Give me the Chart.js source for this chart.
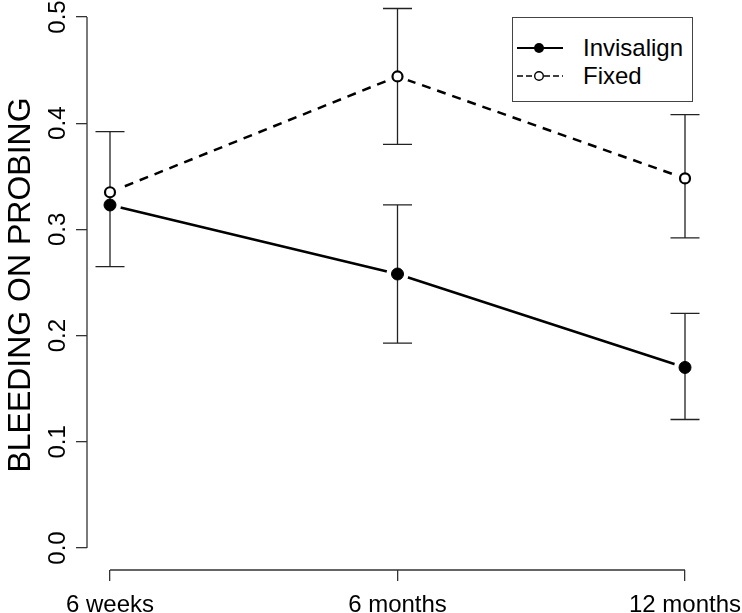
<!DOCTYPE html>
<html>
<head>
<meta charset="utf-8">
<script src="https://cdn.jsdelivr.net/npm/chart.js@4.4.1/dist/chart.umd.min.js"></script>
<style>
  body { margin: 0; background: #fff; }
  #wrap { position: relative; width: 742px; height: 613px; }
  #legend {
    position: absolute; left: 512px; top: 17px; width: 179px; height: 83px;
    border: 1px solid #444; background: #fff;
    font-family: "Liberation Sans", Arial, sans-serif; font-size: 24px; color: #000;
  }
  .row { position: absolute; left: 0; height: 26px; display: flex; align-items: center; }
  .row svg { margin-left: 4px; }
  .row span { margin-left: 20px; }
</style>
</head>
<body>
<div id="wrap">
  <canvas id="chart" width="742" height="613"></canvas>
  <div id="legend">
    <div class="row" style="top:17px">
      <svg width="46" height="14"><line x1="0" y1="7" x2="46" y2="7" stroke="#000" stroke-width="2"/><circle cx="22" cy="7" r="5" fill="#000"/></svg>
      <span>Invisalign</span>
    </div>
    <div class="row" style="top:45px">
      <svg width="46" height="14"><line x1="0" y1="7" x2="46" y2="7" stroke="#000" stroke-width="1.3" stroke-dasharray="6,3"/><circle cx="22" cy="7" r="4.3" fill="#fff" stroke="#000" stroke-width="1.4"/></svg>
      <span>Fixed</span>
    </div>
  </div>
</div>
<script>
// data
const categories = ['6 weeks', '6 months', '12 months'];
const invisalign = [0.323, 0.258, 0.170];
const invisalignLow = [0.265, 0.193, 0.121];
const invisalignHigh = [0.392, 0.323, 0.221];
const fixed = [0.335, 0.444, 0.348];
const fixedLow = [null, 0.380, 0.292];
const fixedHigh = [null, 0.508, 0.408];
const yTicks = [0.0, 0.1, 0.2, 0.3, 0.4, 0.5];

const FONT = '"Liberation Sans", Arial, sans-serif';
const AXIS = '#333';

const toPts = arr => arr.map((v, i) => ({ x: i, y: v }));

// R type="b": the lines stop short of each point
const gapPlugin = {
    id: 'gaps',
    beforeDatasetDraw(chart, args) {
        const ds = chart.data.datasets[args.index];
        if (!ds.isLine) return;
        const ctx = chart.ctx;
        ctx.save();
        ctx.beginPath();
        ctx.rect(0, 0, chart.width, chart.height);
        args.meta.data.forEach(el => {
            ctx.moveTo(el.x + 11, el.y);
            ctx.arc(el.x, el.y, 11, 0, Math.PI * 2);
        });
        ctx.clip('evenodd');
    },
    afterDatasetDraw(chart, args) {
        if (chart.data.datasets[args.index].isLine) chart.ctx.restore();
    }
};

const axesPlugin = {
    id: 'rAxes',
    beforeDatasetsDraw(chart) {
        const ctx = chart.ctx;
        const xs = chart.scales.x, ys = chart.scales.y;
        const area = chart.chartArea;
        ctx.save();
        ctx.strokeStyle = AXIS;
        ctx.lineWidth = 1.3;
        ctx.beginPath();
        ctx.moveTo(area.left, ys.getPixelForValue(yTicks[0]));
        ctx.lineTo(area.left, ys.getPixelForValue(yTicks[yTicks.length - 1]));
        ctx.moveTo(xs.getPixelForValue(0), area.bottom);
        ctx.lineTo(xs.getPixelForValue(categories.length - 1), area.bottom);
        ctx.stroke();

        // error bars
        ctx.strokeStyle = '#222';
        const bars = [[invisalignLow, invisalignHigh], [fixedLow, fixedHigh]];
        bars.forEach(([lo, hi]) => {
            lo.forEach((l, i) => {
                if (l == null) return;
                const x = xs.getPixelForValue(i);
                const y1 = ys.getPixelForValue(l), y2 = ys.getPixelForValue(hi[i]);
                ctx.beginPath();
                ctx.moveTo(x, y1); ctx.lineTo(x, y2);
                ctx.moveTo(x - 14.5, y1); ctx.lineTo(x + 14.5, y1);
                ctx.moveTo(x - 14.5, y2); ctx.lineTo(x + 14.5, y2);
                ctx.stroke();
            });
        });

        // rotated y tick labels
        ctx.fillStyle = '#000';
        ctx.font = '24px ' + FONT;
        ctx.textAlign = 'center';
        ctx.textBaseline = 'alphabetic';
        ys.ticks.forEach(t => {
            ctx.save();
            ctx.translate(65, ys.getPixelForValue(t.value));
            ctx.rotate(-Math.PI / 2);
            ctx.fillText(t.value.toFixed(1), 0, 0);
            ctx.restore();
        });
        ctx.restore();
    }
};

new Chart(document.getElementById('chart'), {
    type: 'line',
    data: {
        datasets: [
            { data: toPts(invisalign), isLine: true, borderColor: '#000', borderWidth: 2.5, pointRadius: 0, tension: 0, fill: false, order: 3 },
            { data: toPts(fixed), isLine: true, borderColor: '#000', borderWidth: 2.5, borderDash: [9, 7], pointRadius: 0, tension: 0, fill: false, order: 3 },
            { data: toPts(invisalign), showLine: false, pointRadius: 6, pointBackgroundColor: '#000', pointBorderColor: '#000', pointBorderWidth: 1, order: 1 },
            { data: toPts(fixed), showLine: false, pointRadius: 5, pointBackgroundColor: '#fff', pointBorderColor: '#000', pointBorderWidth: 2.2, order: 1 }
        ]
    },
    options: {
        responsive: false,
        animation: false,
        layout: { padding: 0, autoPadding: false },
        plugins: { legend: { display: false }, tooltip: { enabled: false } },
        scales: {
            x: {
                type: 'linear', min: -0.08, max: 2.08, bounds: 'data',
                afterBuildTicks: s => { s.ticks = categories.map((c, i) => ({ value: i })); },
                afterFit: s => {
                    s.height = 43;
                    s.paddingLeft = 0; s.paddingRight = 34; s.paddingTop = 0; s.paddingBottom = 0;
                },
                ticks: {
                    callback: (v, i) => categories[i],
                    font: { family: FONT, size: 24, lineHeight: 1 },
                    color: '#000', padding: 12, maxRotation: 0, autoSkip: false
                },
                grid: { drawOnChartArea: false, drawTicks: true, tickLength: 11, color: AXIS, lineWidth: 1.3 },
                border: { display: false }
            },
            y: {
                min: -0.0207, max: 0.516, bounds: 'data',
                afterBuildTicks: s => { s.ticks = yTicks.map(v => ({ value: v })); },
                afterFit: s => {
                    s.width = 87;
                    s.paddingTop = 0; s.paddingBottom = 0; s.paddingLeft = 0; s.paddingRight = 0;
                },
                ticks: { display: false },
                grid: { drawOnChartArea: false, drawTicks: true, tickLength: 11, color: AXIS, lineWidth: 1.3 },
                border: { display: false },
                title: {
                    display: true, text: 'BLEEDING ON PROBING', color: '#000',
                    font: { family: FONT, size: 32, lineHeight: 1 },
                    padding: { top: 5, bottom: 0 }
                }
            }
        }
    },
    plugins: [gapPlugin, axesPlugin]
});
</script>
</body>
</html>
